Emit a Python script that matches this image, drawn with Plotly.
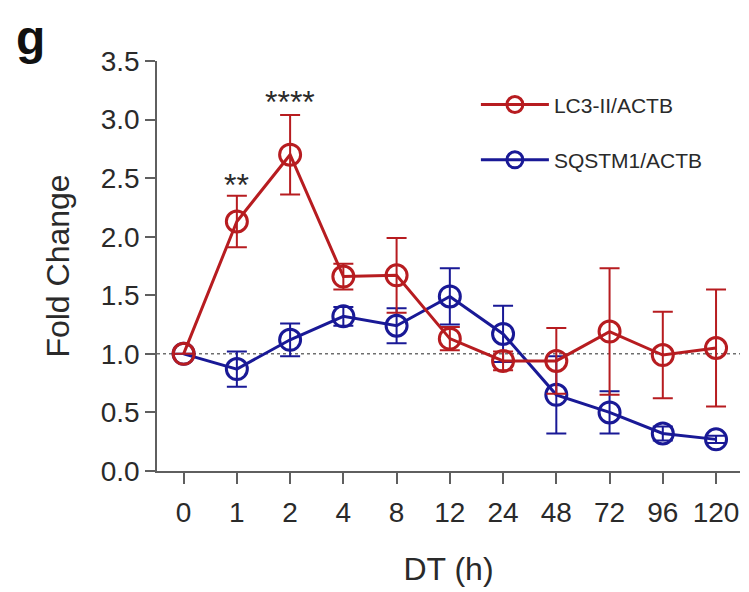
import plotly.graph_objects as go

time_labels = ["0", "1", "2", "4", "8", "12", "24", "48", "72", "96", "120"]
lc3_mean = [1.00, 2.13, 2.70, 1.66, 1.67, 1.13, 0.94, 0.94, 1.19, 0.99, 1.05]
lc3_err = [0.00, 0.22, 0.34, 0.11, 0.32, 0.10, 0.08, 0.28, 0.54, 0.37, 0.50]
sq_mean = [1.00, 0.87, 1.12, 1.32, 1.24, 1.49, 1.17, 0.65, 0.50, 0.32, 0.27]
sq_err = [0.00, 0.15, 0.14, 0.08, 0.15, 0.24, 0.24, 0.33, 0.18, 0.06, 0.03]
sig_x = ["1", "2"]
sig_y = [2.44, 3.15]
sig_text = ["**", "****"]
y_ticks = [0, 0.5, 1, 1.5, 2, 2.5, 3, 3.5]
y_ticktext = ["0.0", "0.5", "1.0", "1.5", "2.0", "2.5", "3.0", "3.5"]

red = "rgb(183,28,32)"
blue = "rgb(25,25,150)"
axis_col = "rgb(95,95,95)"
text_col = "#2a2a2a"
font_family = "Liberation Sans, Arial, sans-serif"

fig = go.Figure()
fig.add_trace(go.Scatter(
    x=time_labels, y=sq_mean, name="SQSTM1/ACTB", mode="lines+markers",
    line=dict(color=blue, width=3),
    marker=dict(symbol="circle-open", size=21, color=blue, line=dict(width=3, color=blue)),
    error_y=dict(type="data", array=sq_err, color=blue, thickness=2, width=10),
    legendgroup="b", legendrank=2,
))
fig.add_trace(go.Scatter(
    x=time_labels, y=lc3_mean, name="LC3-II/ACTB", mode="lines+markers",
    line=dict(color=red, width=3),
    marker=dict(symbol="circle-open", size=21, color=red, line=dict(width=3, color=red)),
    error_y=dict(type="data", array=lc3_err, color=red, thickness=2, width=10),
    legendgroup="a", legendrank=1,
))

fig.add_shape(type="line", xref="paper", yref="y", x0=0, x1=1, y0=1, y1=1,
              line=dict(color="rgb(110,110,110)", width=1.5, dash="dot"), layer="below")

for x, y, t in zip(sig_x, sig_y, sig_text):
    fig.add_annotation(x=x, y=y, xref="x", yref="y", text=t, showarrow=False,
                       font=dict(size=32, color=text_col, family=font_family))

fig.add_annotation(x=-0.245, y=1.128, xref="paper", yref="paper", text="<b>g</b>",
                   showarrow=False, xanchor="left", yanchor="top",
                   font=dict(size=48, color="#111", family=font_family))

fig.update_layout(
    template="none",
    width=741, height=584,
    margin=dict(l=149, r=9, t=53, b=121, autoexpand=False),
    paper_bgcolor="white", plot_bgcolor="white",
    font=dict(family=font_family, color=text_col),
    showlegend=True,
    legend=dict(x=0.547, y=0.943, xanchor="left", yanchor="top",
                font=dict(size=21, color=text_col), traceorder="grouped",
                tracegroupgap=25, bgcolor="rgba(0,0,0,0)", itemwidth=68),
    xaxis=dict(type="category", range=[-0.5, 10.45], showline=True, automargin=False,
               linecolor=axis_col, linewidth=1.5, ticks="outside",
               ticklen=11, tickcolor=axis_col, tickwidth=1.5, ticklabelstandoff=5,
               tickfont=dict(size=28, color=text_col), showgrid=False, zeroline=False,
               title=dict(text="DT (h)", font=dict(size=32, color=text_col), standoff=30)),
    yaxis=dict(range=[0, 3.5], tickvals=y_ticks, ticktext=y_ticktext, automargin=False,
               showline=True, linecolor=axis_col, linewidth=1.5,
               ticks="outside", ticklen=10, tickcolor=axis_col, tickwidth=1.5,
               tickfont=dict(size=28, color=text_col), showgrid=False, zeroline=False,
               title=dict(text="Fold Change", font=dict(size=32, color=text_col), standoff=22)),
)

fig.write_html("out.html")
